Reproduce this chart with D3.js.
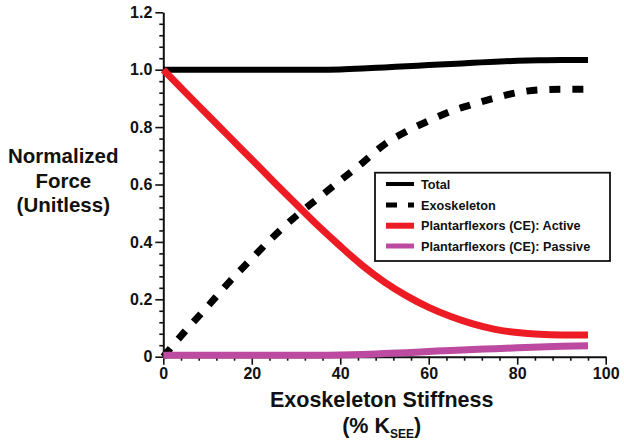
<!DOCTYPE html>
<html><head><meta charset="utf-8">
<script src="https://cdn.jsdelivr.net/npm/d3@7"></script>
<style>body{margin:0;background:#fff}svg{display:block}text{font-family:"Liberation Sans",Arial,sans-serif;font-weight:bold;fill:#111}</style>
</head><body><svg id="c" width="624" height="446"></svg>
<script>
const xVals = [0,5,10,15,20,25,30,35,40,45,50,55,60,65,70,75,80,85,90,96];
const totalVals = [1.0,1.0,1.0,1.0,1.0,1.0,1.0,1.0,1.001,1.004,1.008,1.012,1.016,1.02,1.024,1.028,1.031,1.033,1.034,1.034];
const exoVals = [0,0.09,0.175,0.262,0.342,0.42,0.49,0.552,0.614,0.675,0.74,0.785,0.822,0.855,0.88,0.902,0.92,0.93,0.932,0.932];
const activeVals = [1.0,0.921,0.843,0.765,0.687,0.609,0.532,0.456,0.385,0.318,0.26,0.212,0.172,0.14,0.114,0.095,0.084,0.078,0.076,0.076];
const passiveVals = [0.005,0.005,0.005,0.005,0.005,0.005,0.005,0.005,0.006,0.008,0.011,0.014,0.018,0.022,0.025,0.028,0.031,0.034,0.036,0.038];
const xTicks = [0,20,40,60,80,100];
const xTickLabels = ["0","20","40","60","80","100"];
const yTicks = [0,0.2,0.4,0.6,0.8,1.0,1.2];
const yTickLabels = ["0","0.2","0.4","0.6","0.8","1.0","1.2"];
const seriesNames = ["Total","Exoskeleton","Plantarflexors (CE): Active","Plantarflexors (CE): Passive"];
const seriesColors = ["#000000","#000000","#ed1c24","#bb4aa0"];

const svg = d3.select("#c");
const x = d3.scaleLinear().domain([0,100]).range([163.3,605.7]);
const y = d3.scaleLinear().domain([0,1.2]).range([356.7,12.3]);

// axes
const minorX = d3.range(0,101,4).filter(v=>!xTicks.includes(v));
const minorY = d3.range(0,61,2).map(v=>+(v/50).toFixed(2)).filter(v=>v<=1.2 && !yTicks.some(t=>Math.abs(t-v)<1e-6));

const gx = svg.append("g").attr("transform",`translate(0,${y(0)})`);
gx.call(d3.axisBottom(x).tickValues(minorX).tickSize(4).tickFormat(""));
gx.call(g=>g.select(".domain").remove());
const gx2 = svg.append("g").attr("transform",`translate(0,${y(0)})`);
gx2.call(d3.axisBottom(x).tickValues(xTicks).tickSize(8).tickSizeOuter(0).tickPadding(3).tickFormat((d,i)=>xTickLabels[i]));
const gy = svg.append("g").attr("transform",`translate(${x(0)},0)`);
gy.call(d3.axisLeft(y).tickValues(minorY).tickSize(4).tickFormat(""));
gy.call(g=>g.select(".domain").remove());
const gy2 = svg.append("g").attr("transform",`translate(${x(0)},0)`);
gy2.call(d3.axisLeft(y).tickValues(yTicks).tickSize(8).tickSizeOuter(0).tickPadding(3).tickFormat((d,i)=>yTickLabels[i]));
svg.selectAll(".domain").attr("stroke","#111").attr("stroke-width",2);
svg.selectAll(".tick line").attr("stroke","#111").attr("stroke-width",1.6);
svg.selectAll(".tick text").style("font-size","16px").style("font-family","Liberation Sans, Arial, sans-serif").style("font-weight","bold").attr("fill","#111");

// lines
const line = d3.line().x(d=>x(d[0])).y(d=>y(d[1])).curve(d3.curveMonotoneX);
const mk = vals => xVals.map((v,i)=>[v,vals[i]]);
svg.append("path").datum(mk(totalVals)).attr("d",line).attr("fill","none").attr("stroke",seriesColors[0]).attr("stroke-width",6);
svg.append("path").datum(mk(exoVals)).attr("d",line).attr("fill","none").attr("stroke",seriesColors[1]).attr("stroke-width",7).attr("stroke-dasharray","11,12");
svg.append("path").datum(mk(activeVals)).attr("d",line).attr("fill","none").attr("stroke",seriesColors[2]).attr("stroke-width",7);
svg.append("path").datum(mk(passiveVals)).attr("d",line).attr("fill","none").attr("stroke",seriesColors[3]).attr("stroke-width",7);

// legend
const lg = svg.append("g");
lg.append("rect").attr("x",375).attr("y",172.7).attr("width",235).attr("height",88.3).attr("fill","#fff").attr("stroke","#111").attr("stroke-width",1.8);
const rowsY = [184,205,225.7,246];
const swW = [4,5,6,5];
seriesNames.forEach((n,i)=>{
  const l = lg.append("line").attr("x1",386).attr("x2",414).attr("y1",rowsY[i]).attr("y2",rowsY[i]).attr("stroke",seriesColors[i]).attr("stroke-width",swW[i]);
  if(i===1) l.attr("stroke-dasharray","11,11");
  lg.append("text").attr("x",421).attr("y",rowsY[i]+4.5).style("font-size","12.7px").text(n);
});

// axis titles
svg.append("text").attr("x",381.7).attr("y",406.7).attr("text-anchor","middle").style("font-size","21.5px").text("Exoskeleton Stiffness");
const xt2 = svg.append("text").attr("x",381.7).attr("y",433).attr("text-anchor","middle").style("font-size","21.5px");
xt2.append("tspan").text("(% K");
xt2.append("tspan").attr("dy",5).style("font-size","12px").text("SEE");
xt2.append("tspan").attr("dy",-5).text(")");
const ytl = ["Normalized","Force","(Unitless)"];
const ytY = [163.3,188,211.5];
ytl.forEach((t,i)=>svg.append("text").attr("x",63.3).attr("y",ytY[i]).attr("text-anchor","middle").style("font-size","20.5px").text(t));
</script></body></html>
